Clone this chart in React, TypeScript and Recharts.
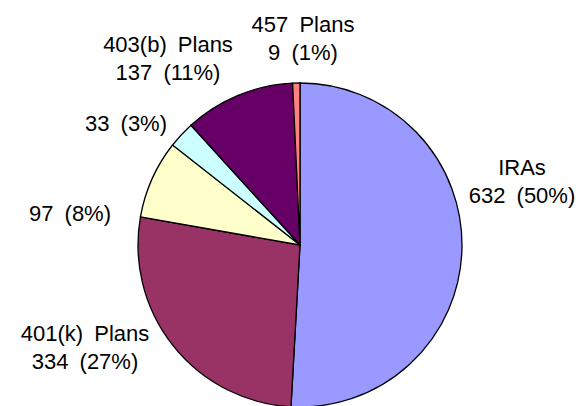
import React from "react";
import { PieChart, Pie, Cell } from "recharts";

const categories = ["IRAs", "401(k) Plans", "", "", "403(b) Plans", "457 Plans"];
const values = [632, 334, 97, 33, 137, 9];
const percentLabels = [50, 27, 8, 3, 11, 1];
const colors = ["#9999FF", "#993366", "#FFFFCC", "#CCFFFF", "#660066", "#FF8080"];

// label offsets from the pie centre: x = text centre, y = baseline of last line (layout only)
const labelDX = [222, -215, -230, -174, -132, 3];
const labelDY = [-42, 124, -24, -114, -165, -185];

const data = categories.map((name, i) => ({ name, value: values[i] }));

const FONT = "'Liberation Sans', Arial, sans-serif";
const LINE = 28;

const renderLabel = (props: any) => {
  const { cx, cy, index } = props;
  const x = cx + labelDX[index];
  const y = cy + labelDY[index];
  const name = categories[index];
  const common = {
    x,
    textAnchor: "middle" as const,
    fontFamily: FONT,
    fontSize: 22,
    fill: "#000",
    style: { wordSpacing: "5px" },
  };
  return (
    <g key={`l${index}`}>
      {name ? (
        <text {...common} y={y - LINE}>
          {name}
        </text>
      ) : null}
      <text {...common} y={y}>
        {`${values[index]} (${percentLabels[index]}%)`}
      </text>
    </g>
  );
};

export default function App() {
  return (
    <div style={{ position: "absolute", left: 0, top: 0, background: "#fff" }}>
      <PieChart width={579} height={406}>
        <Pie
          data={data}
          dataKey="value"
          cx={295}
          cy={240}
          outerRadius={162}
          startAngle={90}
          endAngle={-270}
          stroke="#000"
          strokeWidth={1.3}
          label={renderLabel}
          labelLine={false}
          isAnimationActive={false}
        >
          {data.map((d, i) => (
            <Cell key={i} fill={colors[i]} />
          ))}
        </Pie>
      </PieChart>
    </div>
  );
}
